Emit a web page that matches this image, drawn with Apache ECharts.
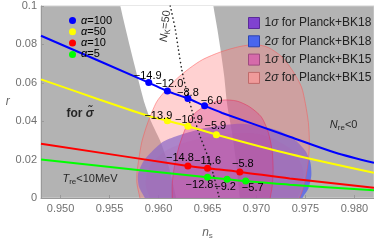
<!DOCTYPE html>
<html><head><meta charset="utf-8">
<script src="https://cdn.jsdelivr.net/npm/echarts@6/dist/echarts.min.js"></script>
<style>html,body{margin:0;padding:0;background:#fff}#c{width:374px;height:245px}</style>
</head><body><div id="c"></div>
<script>
// ---- axes ----
const xTicks = [0.950, 0.955, 0.960, 0.965, 0.970, 0.975, 0.980];
const xTickLabels = ['0.950', '0.955', '0.960', '0.965', '0.970', '0.975', '0.980'];
const yTicks = [0, 0.02, 0.04, 0.06, 0.08, 0.1];
const yTickLabels = ['0', '0.02', '0.04', '0.06', '0.08', '0.1'];

// ---- curves (n_s, r) ----
const curveA100 = [[0.948,0.0845],[0.9590,0.0601],[0.9609,0.0557],[0.9630,0.0518],[0.9647,0.0480],[0.9665,0.0443],[0.9734,0.0319],[0.9780,0.0237],[0.982,0.0183]];
const curveA50  = [[0.948,0.0618],[0.9540,0.0512],[0.9591,0.0425],[0.9609,0.0402],[0.9630,0.0374],[0.9659,0.0330],[0.9734,0.0229],[0.982,0.0131]];
const curveA10  = [[0.948,0.0283],[0.9630,0.0167],[0.9650,0.0155],[0.9683,0.0136],[0.9734,0.0102],[0.982,0.0054]];
const curveA5   = [[0.948,0.0200],[0.9650,0.0108],[0.9670,0.0098],[0.9689,0.0088],[0.9734,0.0069],[0.982,0.0041]];

// ---- marked points and their labels ----
const dotsA100 = [[0.9590,0.0601],[0.9609,0.0557],[0.9630,0.0518],[0.9647,0.0480]];
const labelsA100 = ['−14.9','−12.0','−8.8','−6.0'];
const dotsA50 = [[0.9609,0.0402],[0.9630,0.0374],[0.9659,0.0330]];
const labelsA50 = ['−13.9','−10.9','−5.9'];
const dotsA10 = [[0.9630,0.0167],[0.9650,0.0155],[0.9683,0.0136]];
const labelsA10 = ['−14.8','−11.6','−5.8'];
const dotsA5 = [[0.9650,0.0108],[0.9670,0.0098],[0.9689,0.0088]];
const labelsA5 = ['−12.8','−9.2','−5.7'];

// ---- N_k = 50 dotted curve ----
const curveNk50 = [[0.9612,0.1],[0.9617,0.0882],[0.9620,0.0784],[0.9624,0.0662],[0.9629,0.0554],[0.9635,0.0441],[0.9642,0.0328],[0.9650,0.0221],[0.9656,0.0123],[0.9662,0]];

// ---- allowed (white) band ----
const bandLeft  = [[0.9560,0.104],[0.9561,0.1],[0.9571,0.0784],[0.9579,0.0623],[0.9586,0.0490],[0.9593,0.0392],[0.9602,0.0294],[0.9610,0.0172],[0.9618,0],[0.9619,-0.004]];
const bandRight = [[0.9684,-0.004],[0.9683,0],[0.9679,0.0196],[0.9675,0.0343],[0.9670,0.0490],[0.9667,0.0637],[0.9663,0.0784],[0.9660,0.0882],[0.9656,0.1],[0.9655,0.104]];

// ---- Planck contours ----
const bk15s2 = [[0.9582,-0.004],[0.9581,0],[0.9578,0.0074],[0.9578,0.0132],[0.9580,0.0206],[0.9583,0.0294],[0.9589,0.0392],[0.9598,0.0500],[0.9607,0.0559],[0.9619,0.0623],[0.9632,0.0677],[0.9645,0.0721],[0.9663,0.0760],[0.9683,0.0789],[0.9699,0.0799],[0.9712,0.0784],[0.9726,0.0735],[0.9737,0.0662],[0.9746,0.0578],[0.9750,0.0490],[0.9753,0.0392],[0.9754,0.0294],[0.9753,0.0196],[0.9750,0.0098],[0.9746,0.0025],[0.9744,0],[0.9743,-0.004]];
const bk15s1 = [[0.9614,-0.004],[0.9614,0],[0.9614,0.0074],[0.9616,0.0157],[0.9621,0.0270],[0.9628,0.0368],[0.9637,0.0441],[0.9650,0.0485],[0.9665,0.0510],[0.9680,0.0505],[0.9693,0.0475],[0.9705,0.0422],[0.9712,0.0343],[0.9716,0.0245],[0.9717,0.0147],[0.9716,0.0059],[0.9714,0],[0.9713,-0.004]];
const bk18s2 = [[0.9588,-0.004],[0.9586,0],[0.9580,0.0059],[0.9579,0.0123],[0.9584,0.0186],[0.9591,0.0230],[0.9605,0.0294],[0.9622,0.0328],[0.9642,0.0358],[0.9663,0.0377],[0.9683,0.0387],[0.9706,0.0373],[0.9724,0.0348],[0.9739,0.0304],[0.9750,0.0245],[0.9755,0.0186],[0.9756,0.0118],[0.9753,0.0049],[0.9747,0],[0.9745,-0.004]];
const bk18s1 = [[0.9592,-0.004],[0.9591,0],[0.9587,0.0064],[0.9588,0.0127],[0.9594,0.0186],[0.9607,0.0245],[0.9624,0.0284],[0.9642,0.0309],[0.9663,0.0328],[0.9683,0.0338],[0.9702,0.0333],[0.9719,0.0304],[0.9734,0.0260],[0.9743,0.0206],[0.9748,0.0137],[0.9747,0.0069],[0.9742,0],[0.9740,-0.004]];

// ---- annotation anchors ----
const annotForSigma = [0.9520, 0.0440];
const annotTre = [0.9530, 0.0098];
const annotNre = [0.9789, 0.0382];
const annotNk = [0.9607, 0.0895];

const seriesNames = ['α=100','α=50','α=10','α=5'];
const contourNames = ['1σ for Planck+BK18','2σ for Planck+BK18','1σ for Planck+BK15','2σ for Planck+BK15'];

const FONT = 'Liberation Sans, Arial, sans-serif';
const chart = echarts.init(document.getElementById('c'), null, {renderer:'canvas'});

function poly(name, pts, fill, stroke, lw, z) {
  return {
    type:'custom', name, z, clip:true, silent:true,
    data:[pts[1]], encode:{x:0,y:1},
    renderItem:(params, api) => ({
      type:'polygon',
      shape:{points: pts.map(p => api.coord(p)), smooth:0.25},
      style:{fill, stroke: stroke || null, lineWidth: lw || 0}
    })
  };
}
function curve(name, pts, color, z) {
  return {type:'line', name, data:pts, smooth:0.3, showSymbol:false, clip:true, silent:true, z,
    lineStyle:{color, width:2}, itemStyle:{color}};
}
const offs = {
  a100: [[-1,-7],[2,-7],[0,-6],[7,-5]],
  a50: [[-9,-5],[1,-6],[-1,-9]],
  a10: [[-8,-8],[0,-7],[3,-8]],
  a5: [[-8,8],[-2,8],[7,7]]
};
function dots(name, pts, labels, off, color) {
  return {type:'scatter', name, z:8, silent:true, symbolSize:7, itemStyle:{color, opacity:1},
    data: pts.map((p,i) => ({value:p, label:{show:true, formatter:labels[i], position:'inside', offset:off[i],
      color:'#000', fontSize:11, fontFamily:FONT}}))};
}
const sub = {fontSize:8, fontFamily:FONT, color:'#000', verticalAlign:'bottom', lineHeight:10};
function annot(pt, text, rich, rotate) {
  return {type:'scatter', z:9, silent:true, symbolSize:0, data:[{value:pt}],
    label:{show:true, position:'inside', formatter:text, rotate:rotate||0, rich}};
}

const option = {
  animation:false,
  textStyle:{fontFamily:FONT},
  grid:{left:41, right:0, top:6, bottom:35, show:true, backgroundColor:'#b3b3b3', borderColor:'#d0d0d0', borderWidth:1},
  xAxis:{type:'value', min:0.948, max:0.982,
    name:'{i|n}{s|s}', nameLocation:'middle', nameGap:28,
    nameTextStyle:{rich:{i:{fontStyle:'italic', fontSize:12, color:'#666', fontFamily:FONT, lineHeight:14, verticalAlign:'middle'}, s:{fontSize:8, color:'#666', fontFamily:FONT, verticalAlign:'bottom', lineHeight:10}}},
    axisLine:{lineStyle:{color:'#999'}},
    axisTick:{inside:true, length:3, customValues:xTicks, lineStyle:{color:'#999'}},
    axisLabel:{customValues:xTicks, formatter:v => xTickLabels[xTicks.findIndex(t => Math.abs(t-v)<1e-9)] || '', color:'#707070', fontSize:11, margin:5},
    splitLine:{show:false}},
  yAxis:{type:'value', min:0, max:0.1, interval:0.02,
    name:'r', nameLocation:'middle', nameGap:29, nameRotate:0,
    nameTextStyle:{fontStyle:'italic', color:'#666', fontSize:12},
    axisLine:{show:true, lineStyle:{color:'#999'}},
    axisTick:{show:true, inside:true, length:3, lineStyle:{color:'#999'}},
    axisLabel:{formatter:v => yTickLabels[yTicks.findIndex(t => Math.abs(t-v)<1e-9)] || '', color:'#707070', fontSize:11, margin:4},
    splitLine:{show:false}},
  legend:[
    {orient:'vertical', left:64, top:10, z:20, itemWidth:7, itemHeight:7, itemGap:0.3, icon:'circle',
     data:seriesNames, selectedMode:false,
     formatter:n => '{i|α}' + n.slice(1),
     textStyle:{fontSize:11, lineHeight:10, color:'#000', fontFamily:FONT, rich:{i:{fontStyle:'italic', fontSize:11, lineHeight:10, fontFamily:FONT}}}},
    {orient:'vertical', left:243, top:11, z:20, itemWidth:11, itemHeight:11, itemGap:4.3, selectedMode:false,
     data:[
       {name:contourNames[0], icon:'rect', itemStyle:{color:'#8042d0', borderColor:'#5a2a9a', borderWidth:1}},
       {name:contourNames[1], icon:'rect', itemStyle:{color:'#4a66ee', borderColor:'#2c44b0', borderWidth:1}},
       {name:contourNames[2], icon:'rect', itemStyle:{color:'#d66aaa', borderColor:'#a04a80', borderWidth:1}},
       {name:contourNames[3], icon:'rect', itemStyle:{color:'#f09a9a', borderColor:'#c06a6a', borderWidth:1}}
     ],
     formatter:n => n.charAt(0) + '{i|σ}' + n.slice(2),
     textStyle:{fontSize:12, lineHeight:14, color:'#222', fontFamily:FONT, rich:{i:{fontStyle:'italic', fontSize:12, lineHeight:14, fontFamily:FONT}}}}
  ],
  series:[
    poly('allowed', bandLeft.concat(bandRight), '#ffffff', null, 0, 1),
    poly(contourNames[1], bk18s2, 'rgba(75,90,240,0.72)', null, 0, 2),
    poly(contourNames[0], bk18s1, 'rgba(128,64,200,0.15)', null, 0, 3),
    poly(contourNames[3], bk15s2, 'rgba(255,128,128,0.36)', 'rgba(255,80,80,0.6)', 0.8, 4),
    poly(contourNames[2], bk15s1, 'rgba(215,60,140,0.34)', 'rgba(230,40,80,0.6)', 0.8, 5),
    {type:'line', name:'Nk50', data:curveNk50, smooth:0.3, showSymbol:false, z:6, silent:true,
     lineStyle:{color:'#222', width:1.6, type:[0.1,4], cap:'round'}},
    curve(seriesNames[0], curveA100, '#0000ff', 7),
    curve(seriesNames[1], curveA50, '#ffff00', 7),
    curve(seriesNames[2], curveA10, '#ff0000', 7),
    curve(seriesNames[3], curveA5, '#00ff00', 7),
    dots(seriesNames[0], dotsA100, labelsA100, offs.a100, '#0000ff'),
    dots(seriesNames[1], dotsA50, labelsA50, offs.a50, '#ffff00'),
    dots(seriesNames[2], dotsA10, labelsA10, offs.a10, '#ff0000'),
    dots(seriesNames[3], dotsA5, labelsA5, offs.a5, '#00ff00'),
    annot(annotForSigma, '{b|for }{bi|σ̃}', {b:{fontWeight:'bold', fontSize:12, color:'#000', fontFamily:FONT, lineHeight:14}, bi:{fontWeight:'bold', fontStyle:'italic', fontSize:12, color:'#000', fontFamily:FONT, lineHeight:14}}),
    annot(annotTre, '{i|T}{s|re}{n|<10MeV}', {i:{fontStyle:'italic', fontSize:11, color:'#000', fontFamily:FONT, lineHeight:14, verticalAlign:'middle'}, s:sub, n:{fontSize:11, color:'#000', fontFamily:FONT, lineHeight:14, verticalAlign:'middle'}}),
    annot(annotNre, '{i|N}{s|re}{n|<0}', {i:{fontStyle:'italic', fontSize:11, color:'#000', fontFamily:FONT, lineHeight:14, verticalAlign:'middle'}, s:sub, n:{fontSize:11, color:'#000', fontFamily:FONT, lineHeight:14, verticalAlign:'middle'}}),
    annot(annotNk, '{i|N}{s|K}{n|=50}', {i:{fontStyle:'italic', fontSize:11, color:'#000', fontFamily:FONT, lineHeight:14, verticalAlign:'middle'}, s:sub, n:{fontSize:11, color:'#000', fontFamily:FONT, lineHeight:14, verticalAlign:'middle'}}, 84)
  ]
};
chart.setOption(option);
</script></body></html>
